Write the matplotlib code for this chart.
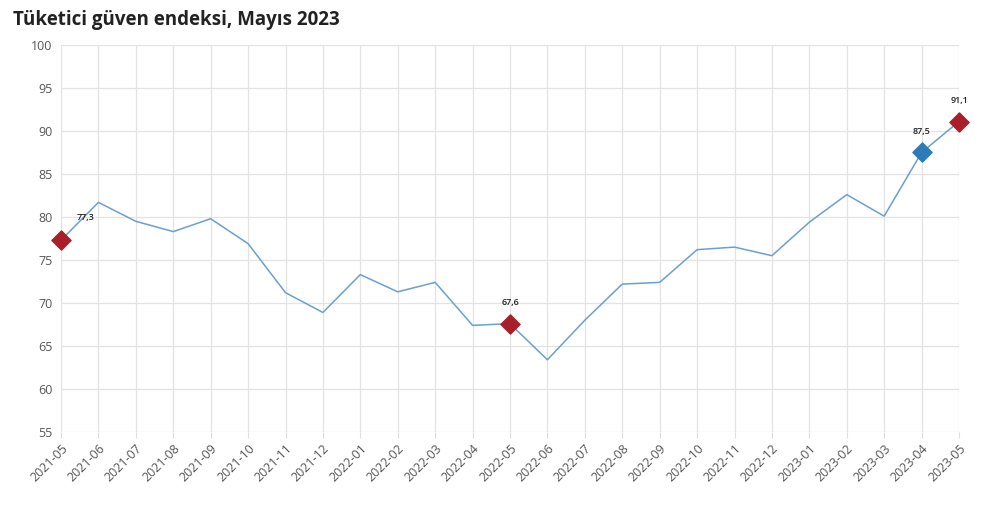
import matplotlib.pyplot as plt

plt.switch_backend('Agg')
plt.rcParams['font.family'] = ['Open Sans', 'DejaVu Sans']

# Veriler
aylar = ['2021-05', '2021-06', '2021-07', '2021-08', '2021-09', '2021-10', '2021-11',
         '2021-12', '2022-01', '2022-02', '2022-03', '2022-04', '2022-05', '2022-06',
         '2022-07', '2022-08', '2022-09', '2022-10', '2022-11', '2022-12', '2023-01',
         '2023-02', '2023-03', '2023-04', '2023-05']
endeks = [77.3, 81.7, 79.5, 78.3, 79.8, 76.9, 71.2, 68.9, 73.3, 71.3, 72.4, 67.4, 67.6,
          63.4, 68.0, 72.2, 72.4, 76.2, 76.5, 75.5, 79.4, 82.6, 80.1, 87.5, 91.1]

kirmizi_idx = [0, 12, 24]
mavi_idx = [23]
etiketler = {0: '77,3', 12: '67,6', 23: '87,5', 24: '91,1'}

fig = plt.figure(figsize=(10, 5.14), dpi=100)
ax = fig.add_axes([0.061, 0.1595, 0.898, 0.753])

x = list(range(len(aylar)))
ax.plot(x, endeks, color='#6b9fcf', linewidth=1.1, zorder=2)

# Kenardaki noktalar kırpılmasın
ax.scatter([x[i] for i in kirmizi_idx], [endeks[i] for i in kirmizi_idx],
           marker='D', s=95, color='#a81f2b', zorder=3, clip_on=False)
ax.scatter([x[i] for i in mavi_idx], [endeks[i] for i in mavi_idx],
           marker='D', s=95, color='#2f7ab8', zorder=3, clip_on=False)

for i, t in etiketler.items():
    if i == 0:
        ax.annotate(t, (x[i], endeks[i]), xytext=(11, 13), textcoords='offset points',
                    fontsize=6.5, fontweight='semibold', color='#222222',
                    ha='left', va='bottom')
    else:
        ax.annotate(t, (x[i], endeks[i]), xytext=(0, 12), textcoords='offset points',
                    fontsize=6.5, fontweight='semibold', color='#222222',
                    ha='center', va='bottom')

ax.set_xlim(0, 24)
ax.set_ylim(55, 100)
ax.set_yticks(range(55, 101, 5))
ax.set_xticks(x)
ax.set_xticklabels(aylar, rotation=45, ha='right', rotation_mode='anchor')
ax.tick_params(axis='both', labelsize=9, colors='#555555', length=0, pad=6)
ax.tick_params(axis='x', length=4, color='#dddddd', pad=3)

ax.grid(True, color='#e3e3e3', linewidth=0.9)
ax.set_axisbelow(True)
for s in ax.spines.values():
    s.set_visible(False)

fig.text(0.013, 0.962, 'Tüketici güven endeksi, Mayıs 2023', fontsize=13.5,
         fontweight='bold', color='#222222', ha='left', va='center')

fig.savefig('out.png', dpi=100)
